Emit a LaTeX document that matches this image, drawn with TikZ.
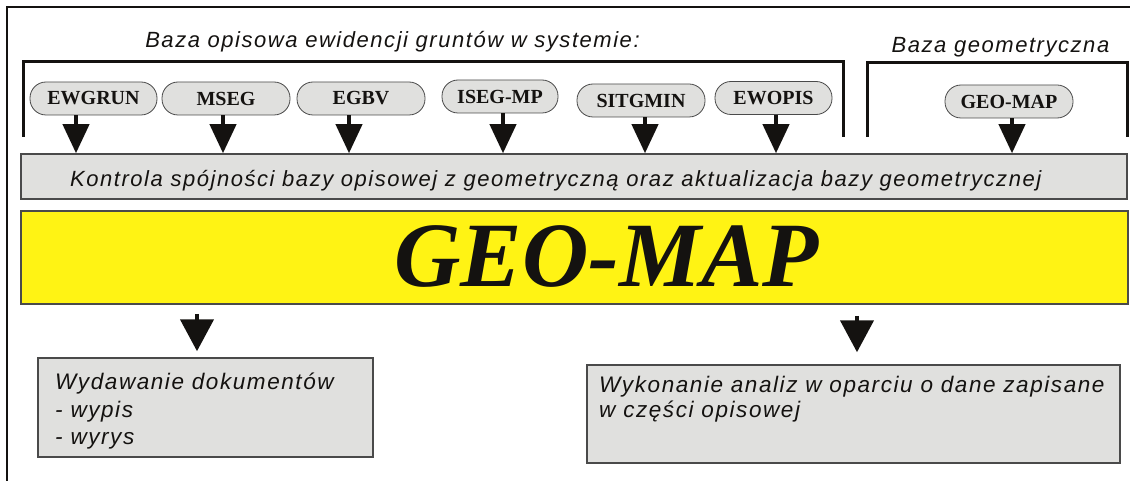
\documentclass[tikz,border=0pt]{standalone}
\usepackage{fontspec}
\setmainfont{Liberation Serif}
\newfontfamily\sanslbl{Liberation Sans}[LetterSpace=7]
\usepackage{tikz}
\usetikzlibrary{arrows.meta, positioning, calc}
\definecolor{boxgray}{HTML}{E0E0DE}
\definecolor{edgegray}{HTML}{4A4A4A}
\definecolor{geoyellow}{HTML}{FFF314}
\definecolor{ink}{HTML}{141210}
\tikzset{
    pill/.style={rectangle, rounded corners=16pt, draw=edgegray, fill=boxgray, line width=0.8pt, minimum width=128pt, minimum height=33pt, inner sep=0pt, font=\bfseries\fontsize{20}{20}\selectfont, text=ink},
    graybox/.style={rectangle, draw=edgegray, fill=boxgray, line width=1.5pt, inner sep=0pt},
    lbl/.style={font=\sanslbl\itshape\fontsize{22}{26}\selectfont, text=ink, inner sep=0pt},
    boxlbl/.style={lbl, align=left, anchor=north west},
    bracket/.style={draw=ink, line width=3pt},
    smallarrow/.style={draw=ink, line width=4pt, -{Triangle[width=26pt, length=29pt]}},
    bigarrow/.style={draw=ink, line width=4.5pt, -{Triangle[width=33pt, length=32pt]}}
}

\begin{document}
\begin{tikzpicture}[x=1pt, y=-1pt]
  \useasboundingbox (0,0) rectangle (1130,481);
  % page frame
  \draw[ink, line width=1.2pt] (7,481) -- (7,7) -- (1130,7);

  % headings and brackets
  \node[lbl, anchor=base] (opistitle) at (392.5,48) {Baza opisowa ewidencji gruntów w systemie:};
  \node[lbl, anchor=base] (geotitle) at (1000.5,53) {Baza geometryczna};
  \draw[bracket] (23,137) -- (23,62) -- (843,62) -- (843,137);
  \draw[bracket] (867,137) -- (867,63) -- (1127,63) -- (1127,137);

  % main boxes
  \node[graybox, minimum width=1106pt, minimum height=45pt] (ctrl) at (574,176.5) {};
  \node[lbl, anchor=base west] at (70,187) {Kontrola spójności bazy opisowej z geometryczną oraz aktualizacja bazy geometrycznej};
  \node[graybox, fill=geoyellow, minimum width=1107pt, minimum height=93pt] (geomap) at (574.5,257.5) {};
  \node[font=\bfseries\itshape\fontsize{92}{92}\selectfont, text=ink, anchor=base] at (606.5,287) {GEO-MAP};

  % source systems
  \foreach \id/\txt/\x/\y/\w/\dx in {
      ewgrun/EWGRUN/93.5/98.5/127/-17.5,
      mseg/MSEG/226/98.5/128/-3,
      egbv/EGBV/361/98.5/128/-12,
      isegmp/ISEG-MP/500/96.5/116/3,
      sitgmin/SITGMIN/641/100.5/128/4,
      ewopis/EWOPIS/773.5/98/117/2.5,
      geodb/GEO-MAP/1009/101.5/128/3}{
    \node[pill, minimum width=\w pt] (\id) at (\x,\y) {\txt};
    \draw[smallarrow] ([xshift=\dx pt]\id.south) -- ([xshift=\dx pt]\id.south |- ctrl.north);
  }

  % outputs
  \node[graybox, minimum width=335pt, minimum height=99pt] (wydaw) at (205.5,407.5) {};
  \node[boxlbl, font=\sanslbl\itshape\fontsize{22.5}{27.5}\selectfont] at (55,373) {Wydawanie dokumentów\\- wypis\\- wyrys};
  \node[graybox, minimum width=533pt, minimum height=98pt] (analiz) at (853.5,414) {};
  \node[boxlbl, font=\sanslbl\itshape\fontsize{22.5}{25}\selectfont] at (599,376) {Wykonanie analiz w oparciu o dane zapisane\\w części opisowej};

  \draw[bigarrow] ($(wydaw.north |- geomap.south)+(-8.5,9)$) -- ([xshift=-8.5pt, yshift=6pt]wydaw.north);
  \draw[bigarrow] ($(analiz.north |- geomap.south)+(3.5,11)$) -- ([xshift=3.5pt, yshift=12pt]analiz.north);
\end{tikzpicture}
\end{document}
